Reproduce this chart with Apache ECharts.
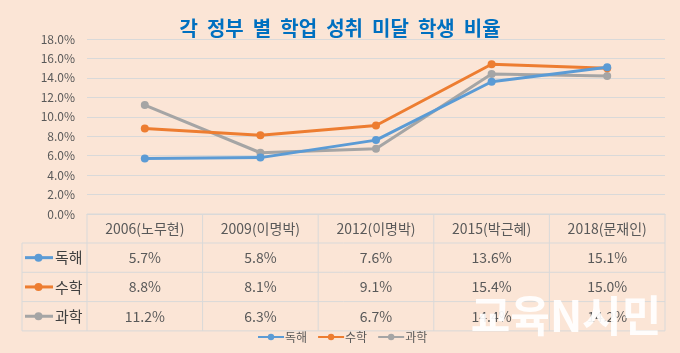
<!DOCTYPE html>
<html>
<head>
<meta charset="utf-8">
<script src="https://cdn.jsdelivr.net/npm/echarts@6/dist/echarts.min.js"></script>
<style>
  html, body { margin: 0; padding: 0; background: #FBE5D6; }
  #main { width: 680px; height: 353px; }
</style>
</head>
<body>
<div id="main"></div>
<script>
// 데이터
var categories = ['2006(노무현)', '2009(이명박)', '2012(이명박)', '2015(박근혜)', '2018(문재인)'];
var seriesNames = ['독해', '수학', '과학'];
var readingData = [5.7, 5.8, 7.6, 13.6, 15.1];
var mathData = [8.8, 8.1, 9.1, 15.4, 15.0];
var scienceData = [11.2, 6.3, 6.7, 14.4, 14.2];
var colors = ['#5B9BD5', '#ED7D31', '#A5A5A5'];

var FONT = '"Noto Sans CJK KR", "Noto Sans", sans-serif';
var allData = [readingData, mathData, scienceData];

var chart = echarts.init(document.getElementById('main'), null, { renderer: 'canvas' });

var series = seriesNames.map(function (name, i) {
    return {
        name: name,
        type: 'line',
        data: allData[i],
        symbol: 'circle',
        symbolSize: 8,
        lineStyle: { width: 3, color: colors[i] },
        itemStyle: { color: colors[i] },
        z: 3 - i + 2
    };
});

chart.setOption({
    backgroundColor: '#FBE5D6',
    animation: false,
    textStyle: { fontFamily: FONT },
    title: {
        text: '각  정부  별  학업  성취  미달  학생  비율',
        left: 'center',
        top: 13,
        textStyle: { color: '#0070C0', fontSize: 20, fontWeight: 'bold', fontFamily: FONT }
    },
    legend: {
        data: seriesNames,
        left: 252,
        top: 326,
        itemWidth: 26,
        itemHeight: 8,
        itemGap: 10,
        textStyle: { color: '#595959', fontSize: 12, fontFamily: FONT, padding: [0, 0, 0, -4] }
    },
    grid: { left: 87, right: 15, top: 39, bottom: 139 },
    xAxis: {
        type: 'category',
        data: categories,
        boundaryGap: true,
        axisLine: { show: true, lineStyle: { color: '#D9D9D9' } },
        axisTick: { show: false },
        axisLabel: { show: false }
    },
    yAxis: {
        type: 'value',
        min: 0,
        max: 18,
        interval: 2,
        axisLine: { show: false },
        axisTick: { show: false },
        axisLabel: {
            margin: 12,
            color: '#595959',
            fontSize: 12,
            fontFamily: FONT,
            formatter: function (v) { return v.toFixed(1) + '%'; }
        },
        splitLine: { lineStyle: { color: '#D9D9D9', width: 1 } }
    },
    series: series
});

// 데이터 테이블
function buildTable() {
    var c0 = chart.convertToPixel({ xAxisIndex: 0 }, 0);
    var c1 = chart.convertToPixel({ xAxisIndex: 0 }, 1);
    var colW = c1 - c0;
    var left = c0 - colW / 2;
    var right = left + colW * categories.length;
    var top = chart.convertToPixel({ yAxisIndex: 0 }, 0);
    var headerH = 29;
    var rowH = 29.3;
    var labelLeft = 22;
    var lineColor = '#D9D9D9';
    var els = [];

    function hline(x1, x2, y) {
        els.push({ type: 'line', shape: { x1: x1, y1: y, x2: x2, y2: y }, style: { stroke: lineColor, lineWidth: 1 }, z: 1 });
    }
    function vline(x, y1, y2) {
        els.push({ type: 'line', shape: { x1: x, y1: y1, x2: x, y2: y2 }, style: { stroke: lineColor, lineWidth: 1 }, z: 1 });
    }

    var bottom = top + headerH + rowH * seriesNames.length;
    hline(left, right, top);
    for (var r = 0; r <= seriesNames.length; r++) {
        hline(labelLeft, right, top + headerH + rowH * r);
    }
    vline(labelLeft, top + headerH, bottom);
    for (var c = 0; c <= categories.length; c++) {
        vline(left + colW * c, top, bottom);
    }

    categories.forEach(function (cat, i) {
        els.push({
            type: 'text', z: 2,
            style: {
                text: cat, x: left + colW * (i + 0.5), y: top + headerH / 2,
                align: 'center', verticalAlign: 'middle',
                fill: '#595959', font: '14px ' + FONT
            }
        });
    });

    seriesNames.forEach(function (name, r) {
        var cy = top + headerH + rowH * (r + 0.5);
        els.push({ type: 'line', z: 2, shape: { x1: 25, y1: cy, x2: 53, y2: cy }, style: { stroke: colors[r], lineWidth: 3 } });
        els.push({ type: 'circle', z: 2, shape: { cx: 38.5, cy: cy, r: 4 }, style: { fill: colors[r] } });
        els.push({
            type: 'text', z: 2,
            style: { text: name, x: 55, y: cy, align: 'left', verticalAlign: 'middle', fill: '#404040', font: '15px ' + FONT }
        });
        allData[r].forEach(function (v, i) {
            els.push({
                type: 'text', z: 2,
                style: {
                    text: v.toFixed(1) + '%', x: left + colW * (i + 0.5), y: cy,
                    align: 'center', verticalAlign: 'middle',
                    fill: '#595959', font: '14px ' + FONT
                }
            });
        });
    });

    // 워터마크
    els.push({
        type: 'text', z: 10,
        style: {
            text: '교육N시민', x: 566, y: 316,
            align: 'center', verticalAlign: 'middle',
            fill: 'rgba(255,255,255,0.92)', font: 'bold 43px ' + FONT,
            shadowColor: 'rgba(0,0,0,0.35)', shadowBlur: 4, shadowOffsetX: 1, shadowOffsetY: 2
        }
    });

    chart.setOption({ graphic: els });
}

buildTable();
</script>
</body>
</html>
